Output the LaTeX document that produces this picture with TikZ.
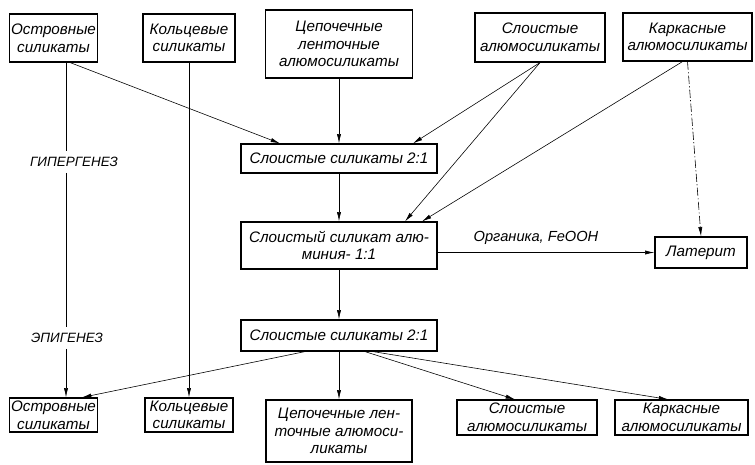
\documentclass[tikz,border=0pt]{standalone}
\usepackage{fontspec}
\setmainfont{Liberation Sans}
\usetikzlibrary{arrows.meta}

\begin{document}
\begin{tikzpicture}[x=0.03cm, y=-0.03cm,
	box/.style={draw, line width=1pt, align=center, inner sep=1pt, font=\fontsize{13}{15}\selectfont\itshape},
	con/.style={line width=0.5pt},
	arr/.style={con, -{Latex[length=8pt,width=3.5pt]}},
	dda/.style={arr, dash pattern=on 7pt off 2pt on 1pt off 2pt},
	lbl/.style={inner sep=5pt, font=\fontsize{11.5}{13}\selectfont\itshape}]
	\fill[white] (0,0) rectangle (755,464);
	\node[box, minimum width=2.61cm, minimum height=1.44cm] (t1) at (53.5,38) {Островные\\силикаты};
	\node[box, minimum width=2.76cm, minimum height=1.44cm] (t2) at (189,38) {Кольцевые\\силикаты};
	\node[box, minimum width=4.41cm, minimum height=2.04cm] (t3) at (339,44) {Цепочечные\\ленточные\\алюмосиликаты};
	\node[box, minimum width=3.9cm, minimum height=1.47cm] (t4) at (540,37.5) {Слоистые\\алюмосиликаты};
	\node[box, minimum width=3.87cm, minimum height=1.44cm] (t5) at (687.5,37) {Каркасные\\алюмосиликаты};
	\node[box, minimum width=5.88cm, minimum height=0.87cm] (m1) at (339,158.5) {Слоистые силикаты 2:1};
	\node[box, minimum width=5.88cm, minimum height=1.41cm] (m2) at (339,245.5) {Слоистый силикат алю-\\миния- 1:1};
	\node[box, minimum width=5.88cm, minimum height=0.93cm] (m3) at (339,335.5) {Слоистые силикаты 2:1};
	\node[box, minimum width=2.76cm, minimum height=0.93cm] (lat) at (701,252.5) {Латерит};
	\node[box, minimum width=2.61cm, minimum height=1.02cm] (b1) at (53.5,415) {Островные\\силикаты};
	\node[box, minimum width=2.64cm, minimum height=1.02cm] (b2) at (189,415) {Кольцевые\\силикаты};
	\node[box, minimum width=4.38cm, minimum height=1.86cm] (b3) at (339,431) {Цепочечные лен-\\точные алюмоси-\\ликаты};
	\node[box, minimum width=4.2cm, minimum height=1.05cm] (b4) at (527,417.5) {Слоистые\\алюмосиликаты};
	\node[box, minimum width=3.99cm, minimum height=1.05cm] (b5) at (681.5,417.5) {Каркасные\\алюмосиликаты};
	\node[lbl] (hyper) at (74,162) {ГИПЕРГЕНЕЗ};
	\node[lbl] (epi) at (67,338) {ЭПИГЕНЕЗ};
	\node[lbl, font=\fontsize{12.5}{14}\selectfont\itshape] (org) at (536,238) {Органика, FeOOH};
	\coordinate (lx) at (66,0);
	\draw[con] (t1.south -| lx) -- (hyper.north -| lx);
	\draw[con] (hyper.south -| lx) -- (epi.north -| lx);
	\draw[arr] (epi.south -| lx) -- (b1.north -| lx);
	\draw[arr] (t2) -- (b2);
	\draw[arr] ([xshift=0.5cm]t1.south) -- ([xshift=-1.77cm]m1.north);
	\draw[arr] (t3) -- (m1);
	\draw[arr] (t4.south) -- ([xshift=2.22cm]m1.north);
	\draw[arr] (t4.south) -- ([xshift=1.98cm]m2.north);
	\draw[arr] ([xshift=-0.15cm]t5.south) -- ([xshift=2.49cm]m2.north);
	\draw[dda] (t5.south) -- (lat.north);
	\draw[arr] (m1) -- (m2);
	\draw[arr] (m2.east |- lat.west) -- (lat.west);
	\draw[arr] (m2) -- (m3);
	\draw[arr] ([xshift=-1.02cm]m3.south) -- ([xshift=0.855cm]b1.north);
	\draw[arr] (m3) -- (b3);
	\draw[arr] ([xshift=0.78cm]m3.south) -- ([xshift=-0.36cm]b4.north);
	\draw[arr] ([xshift=1.02cm]m3.south) -- ([xshift=-0.4cm]b5.north);
\end{tikzpicture}
\end{document}
